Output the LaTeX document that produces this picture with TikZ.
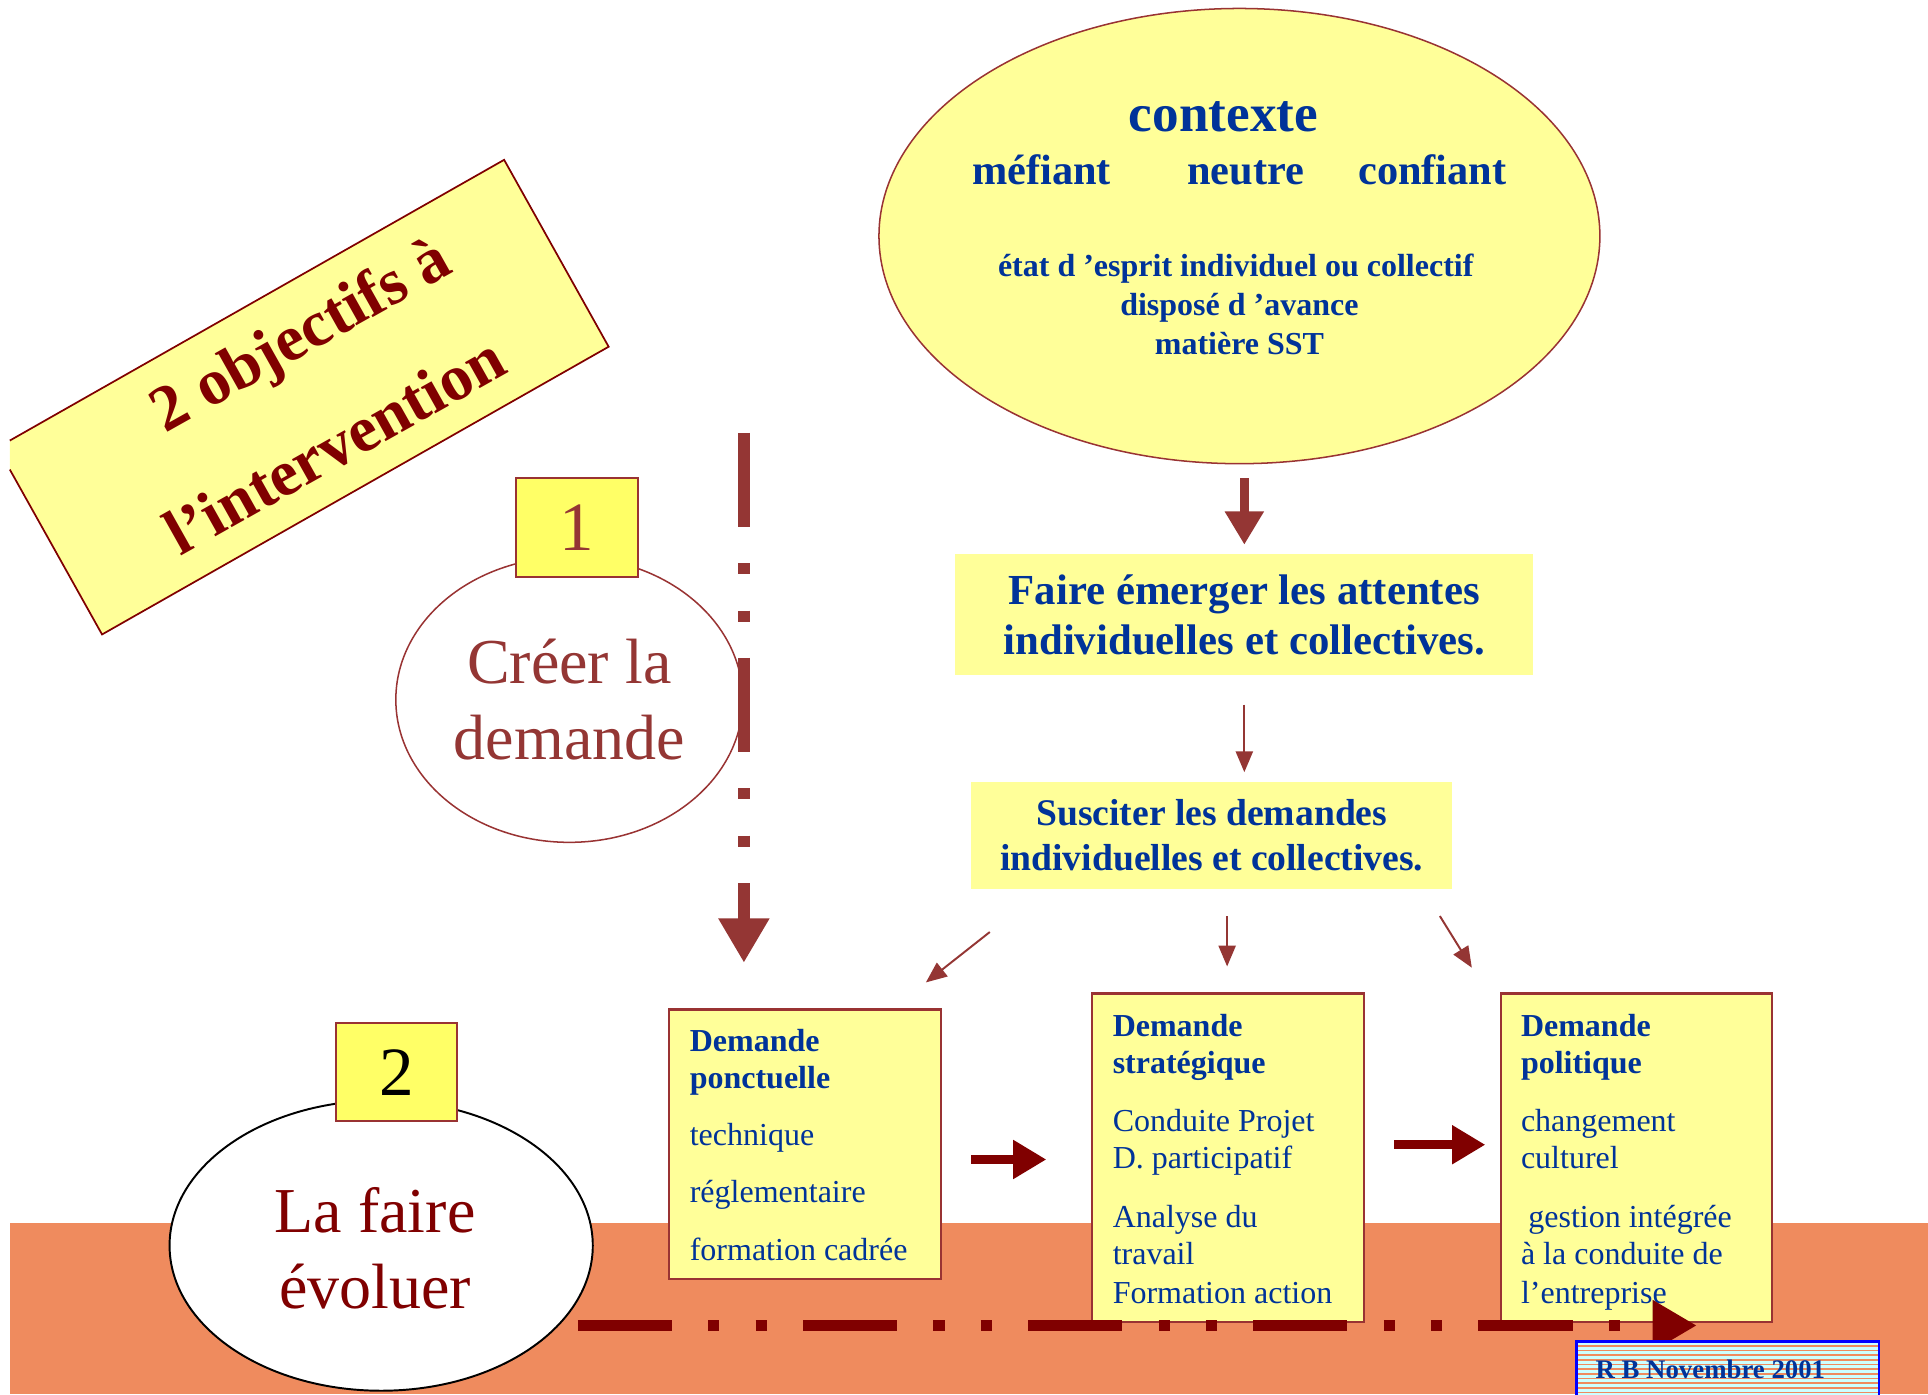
\documentclass[tikz,border=0pt]{standalone}
\usepackage{fontspec}
\setmainfont{Liberation Serif}
\usetikzlibrary{arrows.meta,shapes.geometric}
\definecolor{lyel}{HTML}{FFFF99}
\definecolor{nyel}{HTML}{FFFF66}
\definecolor{tblue}{HTML}{003399}
\definecolor{dred}{HTML}{800000}
\definecolor{brn}{RGB}{148,54,52}
\definecolor{band}{RGB}{239,139,94}
\definecolor{cyanl}{HTML}{CCFFFF}
\definecolor{bord}{RGB}{153,51,51}
\begin{document}
\begin{tikzpicture}[x=0.01cm,y=-0.01cm,
 every node/.style={inner sep=0pt,outer sep=0pt},
 numbox/.style={draw=bord,fill=nyel,line width=0.45pt,minimum width=0.99cm,minimum height=0.80cm,font=\fontsize{16}{19}\selectfont},
 dembox/.style={draw=bord,fill=lyel,line width=0.55pt},
 ybox/.style={fill=lyel,align=center,text=tblue},
 dt/.style={anchor=base west,text=tblue,font=\fontsize{7.4}{9}\selectfont},
 dtb/.style={anchor=base west,text=tblue,font=\fontsize{7.4}{9}\selectfont\bfseries},
 ct/.style={anchor=base,text=tblue},
 thinarrow/.style={brn,line width=0.45pt,-{Triangle[width=0.14cm,length=0.17cm]}},
 fatarrow/.style={line width=0.07cm,-{Triangle[width=0.30cm,length=0.27cm]}},
 dashdot/.style={line width=0.095cm,dash pattern=on 0.765cm off 0.295cm on 0.09cm off 0.295cm on 0.09cm off 0.295cm,-{Triangle[width=0.39cm,length=0.36cm]}}
]
\useasboundingbox (0,0) rectangle (1568,1134);
\fill[white] (0,0) rectangle (1568,1134);
% orange band
\fill[band] (8,995) rectangle (1568,1134);

% rotated title
\fill[lyel] (8,358.3) -- (410,130) -- (495,282) -- (83,516) -- (8,381.9) -- cycle;
\draw[dred,line width=0.4pt] (8,358.3) -- (410,130) -- (495,282) -- (83,516) -- (8,381.9);
\node[rotate=29.3,align=center,text=dred,font=\fontsize{15}{26.5}\selectfont\bfseries] (title) at (249,321) {\hspace*{0.75em}2 objectifs à\\l’intervention};

% contexte ellipse
\node[ellipse,draw=bord,fill=lyel,line width=0.35pt,minimum width=5.86cm,minimum height=3.70cm] (ctx) at (1008,192) {};
\node[ct,font=\fontsize{12.3}{14}\selectfont\bfseries] (ctxt) at (995,107) {contexte};
\node[ct,font=\fontsize{9.8}{12}\selectfont\bfseries] (mef) at (847,150) {méfiant};
\node[ct,font=\fontsize{9.8}{12}\selectfont\bfseries] (neu) at (1013,150) {neutre};
\node[ct,font=\fontsize{9.8}{12}\selectfont\bfseries] (conf) at (1165,150) {confiant};
\node[ct,font=\fontsize{7.4}{9}\selectfont\bfseries] (l1) at (1005,225) {état d ’esprit individuel ou collectif};
\node[ct,font=\fontsize{7.4}{9}\selectfont\bfseries] (l2) at (1008,257) {disposé d ’avance};
\node[ct,font=\fontsize{7.4}{9}\selectfont\bfseries] (l3) at (1008,288) {matière SST};

% yellow boxes
\node[ybox,minimum width=4.70cm,minimum height=0.98cm,font=\fontsize{9.9}{11.7}\selectfont\bfseries] (faire) at (1012,500) {Faire émerger les attentes\\individuelles et collectives.};
\node[ybox,minimum width=3.91cm,minimum height=0.87cm,font=\fontsize{8.7}{10.5}\selectfont\bfseries] (susc) at (985.5,679.5) {Susciter les demandes\\individuelles et collectives.};

% Créer la demande
\node[ellipse,draw=bord,fill=white,line width=0.35pt,minimum width=2.82cm,minimum height=2.32cm,align=center,text=brn,font=\fontsize{14.8}{17.6}\selectfont] (cree) at (463,569) {Créer la\\demande};
\node[numbox,text=brn] (n1) at (469.5,429) {1};

% La faire évoluer
\node[ellipse,draw=black,fill=white,line width=0.45pt,minimum width=3.44cm,minimum height=2.36cm] (evol) at (310,1013) {};
\node[align=center,text=dred,font=\fontsize{14.8}{17.6}\selectfont] (evoltxt) at (305,1015) {La faire\\ évoluer};
\node[numbox,text=black] (n2) at (322.5,872) {2};

% Demande boxes
\node[dembox,minimum width=2.21cm,minimum height=2.19cm] (b1) at (654.5,930.5) {};
\node[dembox,minimum width=2.21cm,minimum height=2.67cm] (b2) at (998.5,941.5) {};
\node[dembox,minimum width=2.20cm,minimum height=2.67cm] (b3) at (1331,941.5) {};

\node[dtb] at (561,855) {Demande};
\node[dtb] at (561,885) {ponctuelle};
\node[dt] at (561,932) {technique};
\node[dt] at (561,978) {réglementaire};
\node[dt] at (561,1025) {formation cadrée};

\node[dtb] at (905,843) {Demande};
\node[dtb] at (905,873) {stratégique};
\node[dt] at (905,920) {Conduite Projet};
\node[dt] at (905,950) {D. participatif};
\node[dt] at (905,998) {Analyse du};
\node[dt] at (905,1028) {travail};
\node[dt] at (905,1060) {Formation action};

\node[dtb] at (1237,843) {Demande};
\node[dtb] at (1237,873) {politique};
\node[dt] at (1237,920) {changement};
\node[dt] at (1237,950) {culturel};
\node[dt] at (1243,998) {gestion intégrée};
\node[dt] at (1237,1028) {à la conduite de};
\node[dt] at (1237,1060) {l’entreprise};

% connectors
\coordinate (c0s) at (1012,389);
\coordinate (c0e) at (1012,443);
\draw[fatarrow,brn] (c0s) -- (c0e);
\coordinate (f0s) at (1012,573);
\coordinate (f0e) at (1012,628);
\draw[thinarrow] (f0s) -- (f0e);
\coordinate (s1s) at (805,758);
\coordinate (s1e) at (753,799);
\coordinate (s2s) at (998,745);
\coordinate (s2e) at (998,786);
\coordinate (s3s) at (1171,745);
\coordinate (s3e) at (1197,787);
\draw[thinarrow] (s1s) -- (s1e);
\draw[thinarrow] (s2s) -- (s2e);
\draw[thinarrow] (s3s) -- (s3e);
\coordinate (a1s) at (790,943);
\coordinate (a1e) at (851,943);
\coordinate (a2s) at (1134,931);
\coordinate (a2e) at (1208,931);
\draw[fatarrow,dred] (a1s) -- (a1e);
\draw[fatarrow,dred] (a2s) -- (a2e);

% dash-dot arrows
\coordinate (vs) at (605,352);
\coordinate (ve) at (605,783);
\draw[dashdot,brn] (vs) -- (ve);
\coordinate (hs) at (470,1078);
\coordinate (he) at (1380,1078);
\draw[dashdot,dred] (hs) -- (he);

% RB box
\begin{scope}
\clip (0,0) rectangle (1568,1134);
\fill[cyanl] (1282,1091) rectangle (1528,1140);
\foreach \k in {0,...,12} {
  \draw[band,line width=0.35pt] (1283,1094.5+3.8*\k) -- (1527,1094.5+3.8*\k);
}
\draw[blue,line width=0.55pt] (1282,1140) -- (1282,1091) -- (1528,1091) -- (1528,1140);
\end{scope}
\node[ct,font=\fontsize{6.2}{7.5}\selectfont\bfseries] (rb) at (1391,1121) {R B Novembre 2001};
\end{tikzpicture}
\end{document}
